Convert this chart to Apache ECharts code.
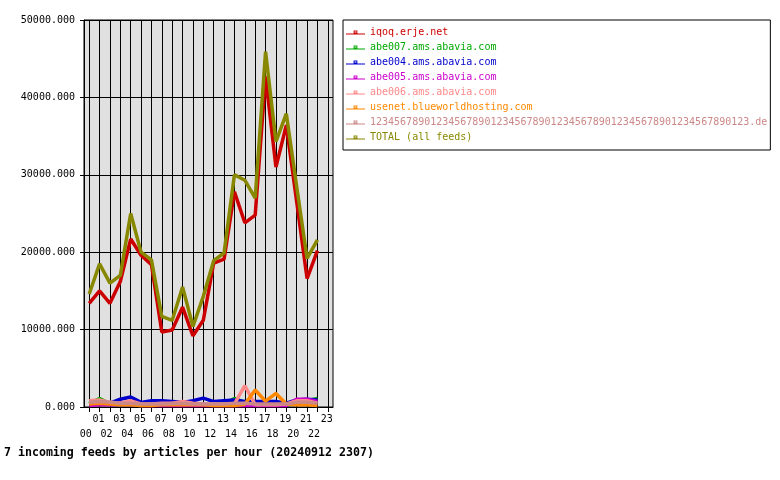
<!DOCTYPE html>
<html><head><meta charset="utf-8">
<script src="https://cdn.jsdelivr.net/npm/echarts@6/dist/echarts.min.js"></script>
<style>html,body{margin:0;padding:0;background:#fff}#c{width:780px;height:480px}</style>
</head><body><div id="c"></div>
<script>
const hours = ['00','01','02','03','04','05','06','07','08','09','10','11','12','13','14','15','16','17','18','19','20','21','22','23'];
const yTicks = [0, 10000, 20000, 30000, 40000, 50000];
const seriesNames = ['iqoq.erje.net','abe007.ams.abavia.com','abe004.ams.abavia.com','abe005.ams.abavia.com','abe006.ams.abavia.com','usenet.blueworldhosting.com','123456789012345678901234567890123456789012345678901234567890123.de','TOTAL (all feeds)'];
const iqoq   = [13400,15000,13400,16200,21700,19600,18400,9700,9950,12900,9200,11200,18600,19100,27800,23800,24800,42700,31000,36400,26500,16600,20200];
const abe007 = [400,1100,400,300,300,200,300,300,300,300,300,300,300,400,1100,600,400,300,300,300,600,800,1100];
const abe004 = [300,450,500,1000,1300,600,800,800,700,600,800,1150,700,800,900,700,700,700,700,480,900,1000,900];
const abe005 = [200,300,300,300,300,200,200,200,200,200,200,200,200,200,200,200,200,200,200,200,1000,1000,700];
const abe006 = [800,900,600,500,800,400,400,500,500,700,500,400,400,400,400,2750,300,300,300,400,800,800,500];
const usenet = [400,500,400,300,300,200,200,300,300,300,300,300,200,200,200,350,2200,750,1750,400,300,300,200];
const longde = [600,700,600,500,500,400,400,400,450,500,400,400,400,400,500,500,400,400,400,400,600,600,500];
const total  = [14600,18500,16000,17000,25000,20000,19000,11700,11200,15500,10400,14300,18900,19900,30000,29300,27000,45900,34300,37900,28500,19200,21600];
const seriesData = [iqoq, abe007, abe004, abe005, abe006, usenet, longde, total];
const seriesColors = ['#cc0000','#00aa00','#0000cc','#cc00cc','#ff8888','#ff8800','#cc8888','#888800'];

const FONT = 'DejaVu Sans Mono';
const chart = echarts.init(document.getElementById('c'), null, {renderer: 'canvas'});
const legendIcon = 'path://M0,5H20V6H0Z M8,2H12V5H8Z M9,3V4H11V3Z';

chart.setOption({
  animation: false,
  backgroundColor: '#fff',
  title: {
    text: '7 incoming feeds by articles per hour (20240912 2307)',
    left: 4, top: 447, padding: 0,
    textStyle: {fontFamily: FONT, fontSize: 11.6, fontWeight: 'bold', color: '#000'}
  },
  legend: {
    orient: 'vertical', left: 343, top: 20,
    padding: [7.5, 3, 7.5, 3],
    itemWidth: 19, itemHeight: 10, itemGap: 5,
    borderColor: '#000', borderWidth: 1, backgroundColor: '#fff',
    icon: legendIcon,
    itemStyle: {borderWidth: 0},
    textStyle: {fontFamily: FONT, fontSize: 10, lineHeight: 10},
    data: seriesNames.map((n, i) => ({name: n, textStyle: {color: seriesColors[i]}}))
  },
  grid: {
    left: 84, right: 447, top: 20, bottom: 73,
    show: true, backgroundColor: '#e0e0e0', borderColor: '#000', borderWidth: 1
  },
  xAxis: {
    type: 'category', data: hours, boundaryGap: true,
    axisLine: {lineStyle: {color: '#000', width: 1}},
    axisTick: {show: true, alignWithLabel: true, length: 5, lineStyle: {color: '#000'}},
    splitLine: {show: true, alignWithLabel: true, lineStyle: {color: '#000', width: 1}},
    axisLabel: {
      interval: 0, hideOverlap: false, margin: 5,
      fontFamily: FONT, fontSize: 10, lineHeight: 15, color: '#000',
      formatter: (v, i) => (i % 2 ? '{o|' + v + '}' : '\n{e|' + v + '}'),
      rich: {
        o: {fontFamily: FONT, fontSize: 10, lineHeight: 15, color: '#000', padding: [0, 2, 0, 0]},
        e: {fontFamily: FONT, fontSize: 10, lineHeight: 15, color: '#000', padding: [0, 7, 0, 0]}
      }
    }
  },
  yAxis: {
    type: 'value', min: yTicks[0], max: yTicks[yTicks.length - 1], interval: 10000,
    axisLine: {show: true, lineStyle: {color: '#000', width: 1}},
    axisTick: {show: true, length: 4, lineStyle: {color: '#000'}},
    splitLine: {show: true, lineStyle: {color: '#000', width: 1}},
    axisLabel: {margin: 9, fontFamily: FONT, fontSize: 10, color: '#000',
      formatter: v => v.toFixed(3)}
  },
  series: seriesNames.map((n, i) => ({
    name: n, type: 'line', data: seriesData[i],
    symbol: 'none', showSymbol: false,
    color: seriesColors[i],
    lineStyle: {color: seriesColors[i], width: 3.5},
    z: 2 + i
  }))
});
</script>
</body></html>
